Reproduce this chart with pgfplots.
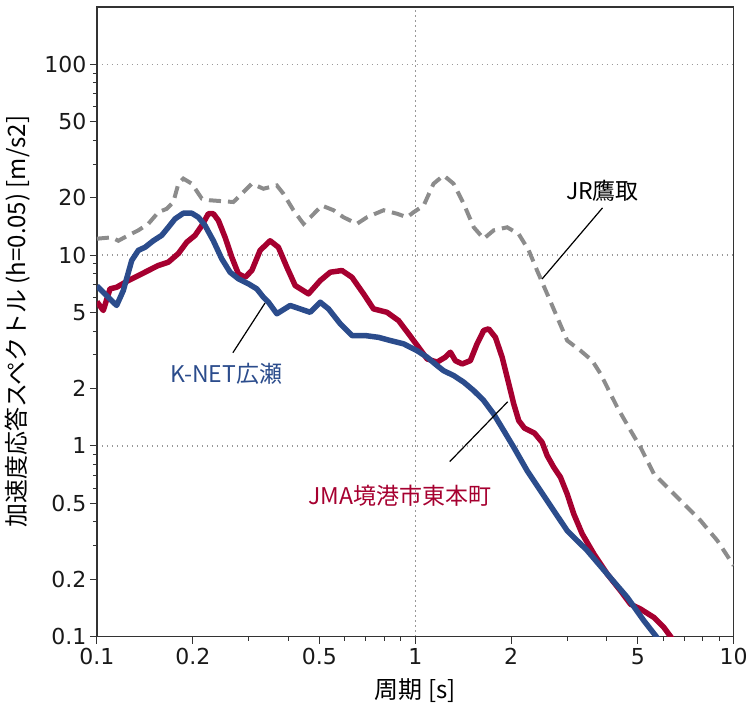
\documentclass[border=0pt]{standalone}
\usepackage{fontspec}
\usepackage{pgfplots}
\pgfplotsset{compat=1.18}
\setmainfont{Noto Sans CJK JP}
\newfontfamily\tickfont{DejaVu Sans}

\definecolor{knet}{RGB}{43,76,140}
\definecolor{jma}{RGB}{166,0,48}
\definecolor{jr}{RGB}{140,140,140}

\begin{document}
\begin{tikzpicture}
\begin{axis}[
    name=ax,
    xmode=log, ymode=log,
    scale only axis,
    width=637pt, height=630pt,
    xmin=0.1, xmax=10, ymin=0.1, ymax=200,
    axis line style={line width=1.2pt, black!80},
    tick align=outside,
    xtick pos=left, ytick pos=left,
    major tick length=7pt, minor tick length=4pt,
    every tick/.style={black!80, line width=1pt},
    xtick={0.1,1,10}, xticklabels={0.1,1,10},
    ytick={0.1,1,10,100}, yticklabels={0.1,1,10,100},
    extra x ticks={0.2,0.5,2,5}, extra x tick labels={0.2,0.5,2,5},
    extra y ticks={0.2,0.5,2,5,20,50}, extra y tick labels={0.2,0.5,2,5,20,50},
    extra tick style={grid=none},
    minor xtick={0.3,0.4,0.6,0.7,0.8,0.9,3,4,6,7,8,9},
    minor ytick={0.3,0.4,0.6,0.7,0.8,0.9,3,4,6,7,8,9,30,40,60,70,80,90},
    grid=major,
    major grid style={line width=1.5pt, dash pattern=on 1.5pt off 3.5pt, black!40},
    ticklabel style={font=\tickfont\fontsize{22}{24}\selectfont, black!90},
    xticklabel style={yshift=-1pt},
    xlabel={周期 [s]},
    ylabel={加速度応答スペクトル (h=0.05) [m/s2]},
    label style={font=\fontsize{24}{26}\selectfont, inner sep=0pt},
    xlabel style={at={([yshift=-42pt]rel axis cs:0.5,0)}, anchor=north},
    ylabel style={at={([xshift=-67pt]rel axis cs:0,0.5)}, anchor=south},
    clip=true,
]
\addplot[jr, line width=4pt, dash pattern=on 12pt off 7pt] coordinates {
(0.1,12.2)(0.1112,12.4)(0.1167,11.9)(0.1254,12.7)(0.1349,13.5)(0.145,14.6)
(0.1559,16.8)(0.1656,17.5)(0.1738,19.0)(0.1802,23.7)(0.1868,25.2)(0.1986,23.7)
(0.2135,19.8)(0.2267,19.4)(0.2466,19.2)(0.2683,19.0)(0.2851,21.0)(0.3065,23.7)
(0.3334,22.3)(0.3674,23.2)(0.3853,21.0)(0.4142,17.2)(0.4455,14.6)(0.4733,16.1)
(0.5088,18.2)(0.5535,17.2)(0.5951,15.8)(0.6556,14.6)(0.7049,15.8)(0.7949,17.2)
(0.8758,16.5)(0.9416,15.8)(0.9878,16.8)(1.062,18.2)(1.141,23.7)(1.227,26.2)
(1.319,23.7)(1.419,18.6)(1.526,14.0)(1.640,12.2)(1.763,13.5)(1.943,14.0)
(2.113,12.9)(2.271,10.6)(2.413,8.31)(2.595,6.27)(2.790,4.73)(2.999,3.57)
(3.303,3.16)(3.595,2.80)(3.818,2.39)(4.104,1.875)(4.309,1.595)(4.745,1.204)
(5.098,0.984)(5.616,0.713)(6.187,0.607)(6.978,0.497)(7.873,0.406)(8.886,0.319)
(10,0.236)
};
\addplot[jma, line width=5.5pt, line join=round] coordinates {
(0.1,5.7)(0.1047,5.13)(0.1099,6.66)(0.1153,6.79)(0.1254,7.36)(0.1349,7.82)
(0.145,8.31)(0.1559,8.83)(0.1676,9.19)(0.1802,10.2)(0.1915,11.7)(0.2033,12.7)
(0.2135,14.3)(0.2239,16.5)(0.2321,16.5)(0.2407,15.2)(0.2527,12.4)(0.2652,9.76)
(0.2782,7.98)(0.2921,7.66)(0.3065,8.31)(0.3255,10.6)(0.3499,11.9)(0.3716,11.0)
(0.3950,8.65)(0.4195,6.93)(0.4618,6.27)(0.5027,7.36)(0.5404,8.14)(0.5883,8.31)
(0.6324,7.66)(0.6878,6.27)(0.7392,5.23)(0.8147,5.02)(0.886,4.54)(0.9526,3.87)
(1.024,3.29)(1.089,2.86)(1.170,2.75)(1.243,2.92)(1.289,3.10)(1.336,2.80)
(1.403,2.69)(1.489,2.80)(1.563,3.43)(1.640,4.03)(1.700,4.11)(1.785,3.71)
(1.874,2.92)(1.966,2.12)(2.038,1.66)(2.113,1.358)(2.201,1.241)(2.367,1.168)
(2.502,1.045)(2.595,0.890)(2.722,0.773)(2.858,0.685)(2.999,0.560)(3.146,0.440)
(3.344,0.346)(3.637,0.272)(4.008,0.213)(4.413,0.174)(4.745,0.148)(5.098,0.1397)
(5.616,0.1262)(6.036,0.1119)(6.40,0.098)
};
\addplot[knet, line width=5.5pt, line join=round] coordinates {
(0.1,6.9)(0.1085,6.02)(0.1153,5.45)(0.121,6.53)(0.1286,9.38)(0.1349,10.6)
(0.1416,11.0)(0.1503,11.9)(0.1597,12.7)(0.1676,14.0)(0.1759,15.5)(0.1868,16.6)
(0.1986,16.6)(0.2083,15.8)(0.2186,14.3)(0.2321,11.9)(0.2466,9.57)(0.2619,8.14)
(0.2782,7.52)(0.2991,7.08)(0.3178,6.66)(0.3334,6.02)(0.3457,5.67)(0.3674,4.93)
(0.4045,5.45)(0.4347,5.23)(0.4675,5.02)(0.5027,5.67)(0.5339,5.23)(0.5810,4.37)
(0.6324,3.79)(0.6962,3.79)(0.7667,3.71)(0.8346,3.57)(0.9188,3.43)(1.012,3.16)
(1.089,2.92)(1.170,2.64)(1.227,2.48)(1.319,2.34)(1.419,2.16)(1.526,1.95)
(1.640,1.73)(1.763,1.47)(1.896,1.204)(2.038,0.984)(2.245,0.742)(2.472,0.583)
(2.722,0.458)(2.999,0.360)(3.467,0.283)(4.008,0.213)(4.63,0.161)(5.224,0.1213)
(5.80,0.097)
};
% leader lines and labels
\draw[black, line width=1.2pt] (rel axis cs:0.794,0.681) -- (rel axis cs:0.699,0.568);
\draw[black, line width=1.2pt] (rel axis cs:0.2135,0.451) -- (rel axis cs:0.264,0.530);
\draw[black, line width=1.2pt] (rel axis cs:0.554,0.278) -- (rel axis cs:0.645,0.373);
\node[font=\fontsize{23}{26}\selectfont, black] at (rel axis cs:0.794,0.708) {JR鷹取};
\node[font=\fontsize{23}{26}\selectfont, knet] at (rel axis cs:0.203,0.417) {K-NET広瀬};
\node[font=\fontsize{23}{26}\selectfont, jma] at (rel axis cs:0.476,0.224) {JMA境港市東本町};
\end{axis}
\path ([shift={(-97pt,-66pt)}]ax.south west) rectangle ([shift={(17pt,7pt)}]ax.north east);
\end{tikzpicture}
\end{document}
